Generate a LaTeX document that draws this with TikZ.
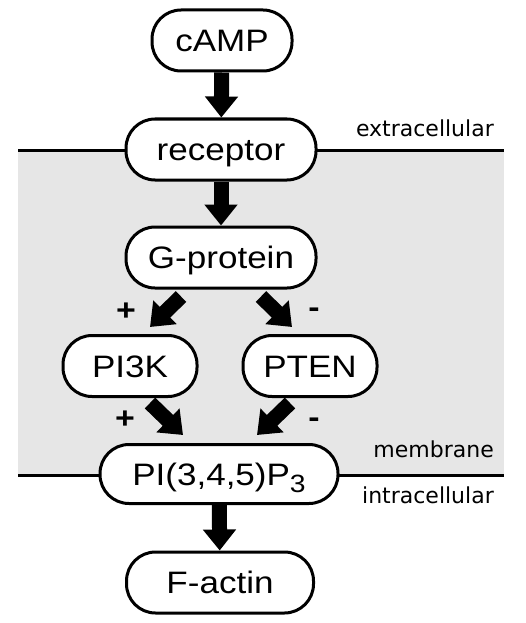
\documentclass[tikz,border=0pt]{standalone}
\usepackage{fontspec}
\setmainfont{Liberation Sans}[FakeStretch=1.13]
\newfontfamily\lblfont{DejaVu Sans}
\usetikzlibrary{arrows.meta,calc}
\definecolor{membranegray}{HTML}{E6E6E6}
\begin{document}
\begin{tikzpicture}[x=1pt,y=-1pt,
  box/.style={draw, line width=3pt, fill=white, rounded corners=29pt,
    minimum height=61pt, inner sep=0pt, text height=22pt, text depth=0pt,
    font=\fontsize{31}{31}\selectfont},
  bigarrow/.style={line width=15pt, -{Triangle[width=32pt,length=21pt]}},
  sign/.style={font=\fontsize{30}{30}\selectfont\bfseries, inner sep=0pt},
  lbl/.style={font=\lblfont\fontsize{22}{22}\selectfont, anchor=base east, inner sep=0pt},
  memline/.style={line width=3pt}]
\useasboundingbox (0,0) rectangle (526,623);
% membrane region
\fill[membranegray] (18,150) rectangle (504,475);
\draw[memline] (18,150) -- (504,150);
\draw[memline] (18,475) -- (504,475);
% nodes
\node[box, minimum width=140pt] (camp) at (222,40.5) {cAMP};
\node[box, minimum width=190pt] (rec) at (221,149.5) {receptor};
\node[box, minimum width=190pt] (gp) at (221,257.5) {G-protein};
\node[box, minimum width=134pt] (pi3k) at (130,366) {PI3K};
\node[box, minimum width=134pt] (pten) at (310,366) {PTEN};
\node[box, minimum width=238pt, minimum height=59pt] (pip3) at (219,474) {PI(3,4,5)P\raisebox{-7pt}{\fontsize{25}{25}\selectfont 3}};
\node[box, minimum width=187pt] (fact) at (220,582.5) {F-actin};
% arrows
\draw[bigarrow] (camp) -- (rec);
\draw[bigarrow] (rec) -- (gp);
\draw[bigarrow] ($(gp.south)+(-40,7)$) -- ($(pi3k.north)+(20,-7)$);
\draw[bigarrow] ($(gp.south)+(40,7)$) -- ($(pten.north)+(-18,-7)$);
\draw[bigarrow] ($(pi3k.south)+(20,5)$) -- ($(pip3.north)+(-36,-8)$);
\draw[bigarrow] ($(pten.south)+(-20,5)$) -- ($(pip3.north)+(38,-8)$);
\draw[bigarrow] (pip3) -- (fact);
% signs
\node[sign] (s1) at (126,312) {+};
\node[sign] (s2) at (314,313) {-};
\node[sign] (s3) at (125,420) {+};
\node[sign] (s4) at (314,423) {-};
% labels
\node[lbl] (extra) at (494,136) {extracellular};
\node[lbl] (memb) at (494,457) {membrane};
\node[lbl] (intra) at (494,503) {intracellular};
\end{tikzpicture}
\end{document}
